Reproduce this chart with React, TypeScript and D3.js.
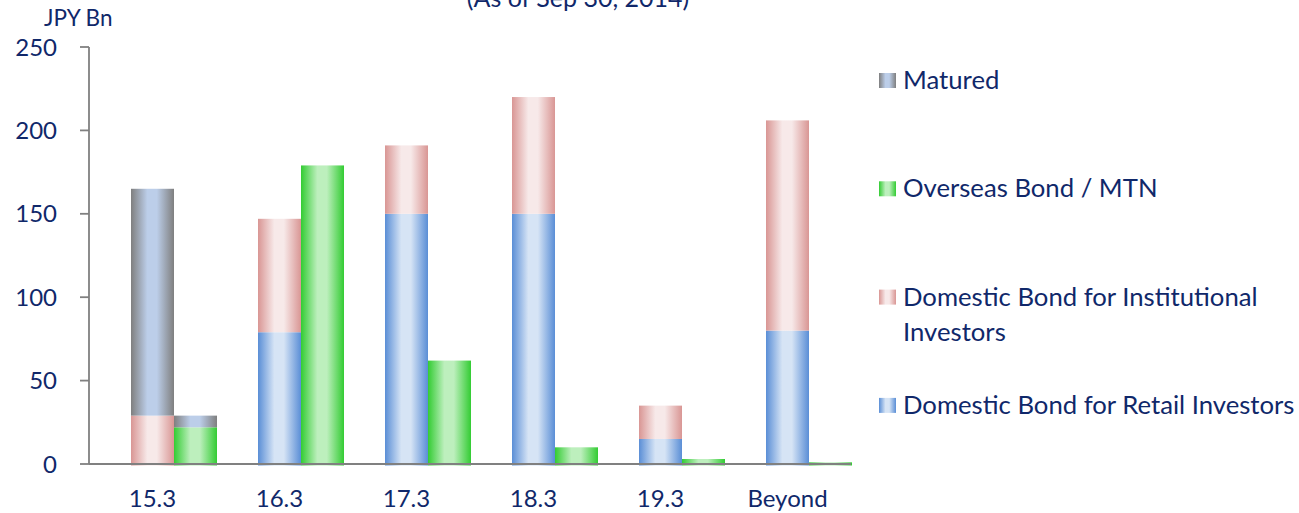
import React from "react";
import * as d3 from "d3";

// ---- Data (JPY Bn) ----
const categories: string[] = ["15.3", "16.3", "17.3", "18.3", "19.3", "Beyond"];
// left stacked bar
const retail: number[] = [0, 79, 150, 150, 15, 80];
const institutional: number[] = [29, 68, 41, 70, 20, 126];
const maturedLeft: number[] = [136, 0, 0, 0, 0, 0];
// right stacked bar
const overseas: number[] = [22, 179, 62, 10, 3, 1];
const maturedRight: number[] = [7, 0, 0, 0, 0, 0];

const yTicks: number[] = [0, 50, 100, 150, 200, 250];

const legendItems = [
  { key: "matured", lines: ["Matured"] },
  { key: "overseas", lines: ["Overseas Bond / MTN"] },
  { key: "institutional", lines: ["Domestic Bond for Institutional", "Investors"] },
  { key: "retail", lines: ["Domestic Bond for Retail Investors"] },
];

const gradients: Record<string, [string, string]> = {
  matured: ["#7f7f7f", "#bccee9"],
  overseas: ["#33cc33", "#bdefbd"],
  institutional: ["#d99694", "#f7e9e9"],
  retail: ["#5a8ed6", "#d6e4f5"],
};

const TEXT = "#10286a";
const FONT = "Lato, 'Open Sans', sans-serif";

export default function App() {
  const W = 1299;
  const H = 513;
  const x0 = 89;
  const x1 = 851;
  const y = d3.scaleLinear().domain([0, 250]).range([464, 47]);
  const x = d3.scaleBand<string>().domain(categories).range([x0, x1]).padding(0);
  const barW = 43;

  const leftSeries = [
    { key: "retail", values: retail },
    { key: "institutional", values: institutional },
    { key: "matured", values: maturedLeft },
  ];
  const rightSeries = [
    { key: "overseas", values: overseas },
    { key: "matured", values: maturedRight },
  ];

  const stackRects = (series: { key: string; values: number[] }[], side: "L" | "R") => {
    const out: JSX.Element[] = [];
    categories.forEach((c, i) => {
      const cx = (x(c) as number) + x.bandwidth() / 2;
      const bx = side === "L" ? cx - barW / 2 : cx + barW / 2;
      let acc = 0;
      series.forEach((s) => {
        const v = s.values[i];
        if (v <= 0) return;
        const yTop = y(acc + v);
        const yBot = acc === 0 ? y(0) + 1.5 : y(acc);
        out.push(
          <rect
            key={`${side}-${s.key}-${i}`}
            x={bx}
            y={yTop}
            width={barW}
            height={Math.max(0.8, yBot - yTop)}
            fill={`url(#g-${s.key})`}
          />
        );
        acc += v;
      });
    });
    return out;
  };

  return (
    <svg
      width={W}
      height={H}
      style={{ position: "absolute", left: 0, top: 0, background: "#fff" }}
      fontFamily={FONT}
    >
      <defs>
        {Object.entries(gradients).map(([k, [edge, mid]]) => (
          <linearGradient key={k} id={`g-${k}`} x1="0" x2="1" y1="0" y2="0">
            <stop offset="0" stopColor={edge} />
            <stop offset="0.38" stopColor={mid} />
            <stop offset="0.6" stopColor={mid} />
            <stop offset="1" stopColor={edge} />
          </linearGradient>
        ))}
      </defs>

      {/* title (partly cut off at top, as in the source) */}
      <text x={578} y={7} textAnchor="middle" fill={TEXT} fontSize={25}>
        (As of Sep 30, 2014)
      </text>

      {/* unit */}
      <text x={44} y={26} fill={TEXT} fontSize={22.5}>
        JPY Bn
      </text>

      {/* bars */}
      {stackRects(leftSeries, "L")}
      {stackRects(rightSeries, "R")}

      {/* y axis */}
      <line x1={x0} x2={x0} y1={y(250)} y2={y(0)} stroke="#808080" strokeWidth={1.8} />
      {yTicks.map((t) => (
        <g key={t}>
          <line x1={80} x2={x0} y1={y(t)} y2={y(t)} stroke="#808080" strokeWidth={1.8} />
          <text x={57} y={y(t)} dy="0.36em" textAnchor="end" fill={TEXT} fontSize={24}>
            {t}
          </text>
        </g>
      ))}

      {/* x axis */}
      <line x1={x0} x2={x1} y1={y(0)} y2={y(0)} stroke="#808080" strokeWidth={2} />
      {categories.map((c) => (
        <text
          key={c}
          x={(x(c) as number) + x.bandwidth() / 2}
          y={507}
          textAnchor="middle"
          fill={TEXT}
          fontSize={24}
        >
          {c}
        </text>
      ))}

      {/* legend */}
      {legendItems.map((it, i) => {
        const base = 89 + i * 108.3;
        return (
          <g key={it.key}>
            <rect x={879} y={base - 16} width={17} height={15} fill={`url(#g-${it.key})`} />
            {it.lines.map((ln, j) => (
              <text key={j} x={903} y={base + j * 35} fill={TEXT} fontSize={25.7}>
                {ln}
              </text>
            ))}
          </g>
        );
      })}
    </svg>
  );
}
